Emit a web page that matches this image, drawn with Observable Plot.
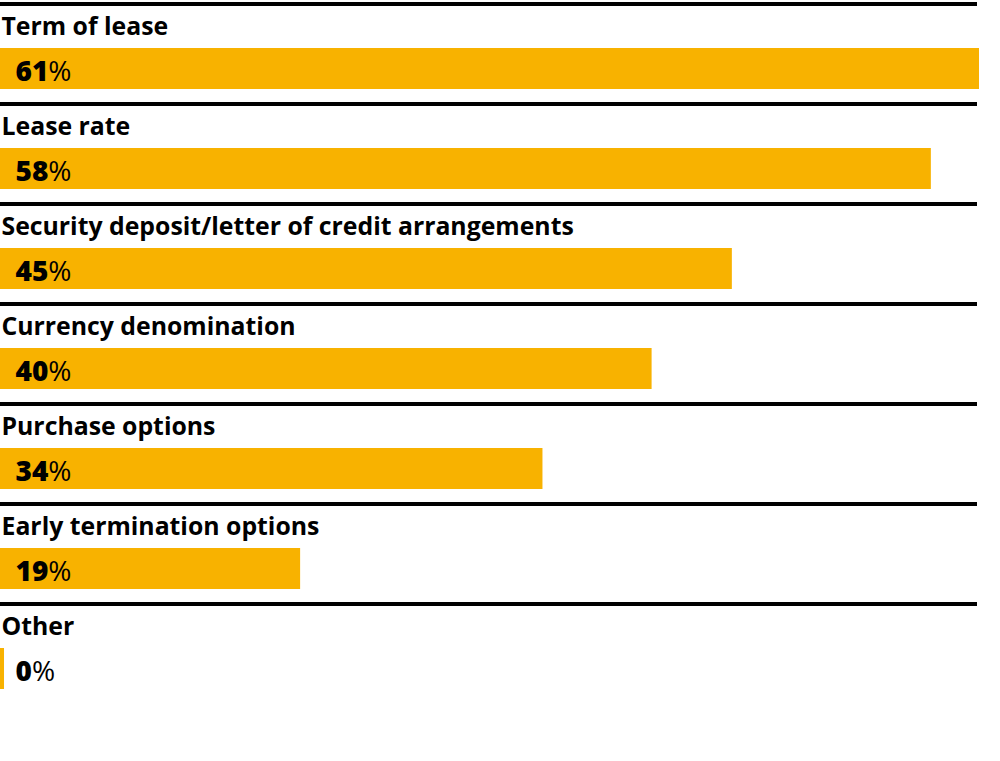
<!DOCTYPE html>
<html>
<head>
<meta charset="utf-8">
<script src="https://cdn.jsdelivr.net/npm/d3@7"></script>
<script src="https://cdn.jsdelivr.net/npm/@observablehq/plot@0.6"></script>
<style>
  html, body { margin: 0; padding: 0; background: #fff; }
  #chart svg { display: block; font-family: "Open Sans", sans-serif; }
</style>
</head>
<body>
<div id="chart"></div>
<script>
const categories = [
  "Term of lease",
  "Lease rate",
  "Security deposit/letter of credit arrangements",
  "Currency denomination",
  "Purchase options",
  "Early termination options",
  "Other"
];
// bar lengths
const values = [61, 58, 45.6, 40.6, 33.8, 18.7, 0];
// printed labels
const labels = ["61", "58", "45", "40", "34", "19", "0"];

const data = categories.map((c, i) => ({category: c, value: values[i], label: labels[i]}));
const xMax = 61;

const chart = Plot.plot({
  width: 1000,
  height: 761,
  marginTop: 0,
  marginBottom: 61,
  marginLeft: 0,
  marginRight: 21,
  x: {domain: [0, xMax], axis: null},
  y: {type: "band", domain: categories, padding: 0, axis: null},
  marks: [
    Plot.barX(data, {x1: 0, x2: xMax, y: "category", fill: "#000", insetTop: 2, insetBottom: 94, insetRight: 2}),
    Plot.text(data, {x: 0, y: "category", text: "category", textAnchor: "start", dx: 1, dy: -23,
      fontSize: 24.8, fontWeight: 700, fill: "#000"}),
    Plot.barX(data, {x1: 0, x2: d => Math.max(d.value, 0.25), y: "category", fill: "#f8b200",
      insetTop: 48, insetBottom: 11}),
    Plot.text(data, {x: 0, y: "category", text: d => d.label + "%", textAnchor: "start", dx: 15, dy: 21.5,
      fontSize: 28, fill: "#000", className: "val"})
  ]
});

document.getElementById("chart").appendChild(chart);

chart.querySelectorAll(".val text").forEach(t => {
  const s = t.textContent;
  const num = s.replace("%", "");
  t.textContent = "";
  const a = document.createElementNS("http://www.w3.org/2000/svg", "tspan");
  a.setAttribute("font-weight", "800");
  a.textContent = num;
  const b = document.createElementNS("http://www.w3.org/2000/svg", "tspan");
  b.setAttribute("font-weight", "400");
  b.textContent = "%";
  t.appendChild(a);
  t.appendChild(b);
});
</script>
</body>
</html>
